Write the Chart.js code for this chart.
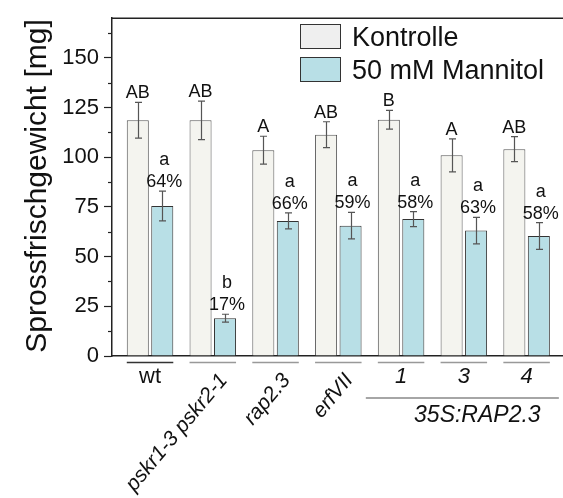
<!DOCTYPE html>
<html>
<head>
<meta charset="utf-8">
<script src="https://cdn.jsdelivr.net/npm/chart.js@4.4.1/dist/chart.umd.min.js"></script>
<style>
  html, body { margin: 0; padding: 0; background: #fff; }
</style>
</head>
<body>
<canvas id="chart" width="563" height="498"></canvas>
<script>
// values
const categories = ['wt', 'pskr1-3 pskr2-1', 'rap2.3', 'erfVII', '1', '3', '4'];
const kontrolle = [118.6, 118.6, 103.6, 111.4, 118.9, 101.0, 104.1];
const kontrolleErr = [9.0, 9.7, 7.0, 6.5, 4.7, 8.3, 6.3];
const mannitol = [75.5, 19.0, 68.0, 65.6, 68.9, 63.1, 60.4];
const mannitolErr = [7.5, 2.0, 4.0, 6.7, 3.8, 6.7, 6.7];
const kontrolleLetters = ['AB', 'AB', 'A', 'AB', 'B', 'A', 'AB'];
const mannitolLetters = ['a', 'b', 'a', 'a', 'a', 'a', 'a'];
const percentLabels = ['64%', '17%', '66%', '59%', '58%', '63%', '58%'];
const rotatedLabels = [1, 2, 3];
const groupLabel = '35S:RAP2.3';
const groupFrom = 4, groupTo = 6;
const yTicks = [0, 25, 50, 75, 100, 125, 150];

const FONT = '"Liberation Sans", Arial, sans-serif';
const AXIS = '#222';

const decor = {
  id: 'decor',
  afterDatasetsDraw(chart) {
    const { ctx, chartArea: area, scales: { y } } = chart;
    const metaK = chart.getDatasetMeta(0);
    const metaM = chart.getDatasetMeta(1);
    ctx.save();

    // top frame line
    ctx.strokeStyle = AXIS;
    ctx.lineWidth = 1.5;
    ctx.beginPath();
    ctx.moveTo(area.left, area.top);
    ctx.lineTo(area.right, area.top);
    ctx.stroke();

    // minor ticks
    ctx.lineWidth = 1.2;
    for (let v = 12.5; v < 170; v += 25) {
      const py = Math.round(y.getPixelForValue(v)) + 0.5;
      ctx.beginPath();
      ctx.moveTo(area.left - 4, py);
      ctx.lineTo(area.left, py);
      ctx.stroke();
    }

    // error bars
    const errs = [[metaK, kontrolle, kontrolleErr], [metaM, mannitol, mannitolErr]];
    ctx.strokeStyle = '#555';
    ctx.lineWidth = 1.2;
    errs.forEach(([meta, vals, err]) => {
      meta.data.forEach((el, i) => {
        const x = Math.round(el.x) + 0.5;
        const t = y.getPixelForValue(vals[i] + err[i]);
        const b = y.getPixelForValue(vals[i] - err[i]);
        ctx.beginPath();
        ctx.moveTo(x, t); ctx.lineTo(x, b);
        ctx.moveTo(x - 3.5, t); ctx.lineTo(x + 3.5, t);
        ctx.moveTo(x - 3.5, b); ctx.lineTo(x + 3.5, b);
        ctx.stroke();
      });
    });

    // significance letters and percentages
    ctx.fillStyle = '#111';
    ctx.textAlign = 'center';
    ctx.textBaseline = 'alphabetic';
    ctx.font = '18px ' + FONT;
    metaK.data.forEach((el, i) => {
      const t = y.getPixelForValue(kontrolle[i] + kontrolleErr[i]);
      ctx.fillText(kontrolleLetters[i], el.x, t - 4);
    });
    metaM.data.forEach((el, i) => {
      const t = y.getPixelForValue(mannitol[i] + mannitolErr[i]);
      ctx.fillText(percentLabels[i], el.x + 2, t - 4);
      ctx.fillText(mannitolLetters[i], el.x + 2, t - 26);
    });

    // group underlines and category labels
    const base = area.bottom;
    categories.forEach((name, i) => {
      const k = metaK.data[i], m = metaM.data[i];
      const x1 = k.x - k.width / 2, x2 = m.x + m.width / 2;
      const cx = (x1 + x2) / 2;
      ctx.strokeStyle = i === 0 ? '#333' : '#999';
      ctx.lineWidth = 1.5;
      ctx.beginPath();
      ctx.moveTo(x1, base + 6.5);
      ctx.lineTo(x2, base + 6.5);
      ctx.stroke();

      ctx.fillStyle = '#111';
      if (rotatedLabels.includes(i)) {
        ctx.save();
        ctx.font = 'italic 21px ' + FONT;
        ctx.translate(cx + 3, base + 14);
        ctx.rotate(-50 * Math.PI / 180);
        ctx.textAlign = 'right';
        ctx.textBaseline = 'top';
        ctx.fillText(name, 0, 0);
        ctx.restore();
      } else {
        ctx.font = (i === 0 ? '' : 'italic ') + '22px ' + FONT;
        ctx.textAlign = 'center';
        ctx.textBaseline = 'alphabetic';
        ctx.fillText(name, cx, base + 27);
      }
    });

    // transgenic line group
    const g1 = metaK.data[groupFrom], g2 = metaM.data[groupTo];
    const gx1 = g1.x - g1.width / 2 - 12, gx2 = g2.x + g2.width / 2 + 9;
    ctx.strokeStyle = '#888';
    ctx.lineWidth = 1.5;
    ctx.beginPath();
    ctx.moveTo(gx1, base + 42);
    ctx.lineTo(gx2, base + 42);
    ctx.stroke();
    ctx.font = 'italic 23px ' + FONT;
    ctx.textAlign = 'center';
    ctx.fillText(groupLabel, (gx1 + gx2) / 2 + 15, base + 66);

    // legend
    const items = chart.data.datasets;
    ctx.textAlign = 'left';
    ctx.font = '27px ' + FONT;
    items.forEach((ds, i) => {
      const top = 24 + i * 33;
      ctx.fillStyle = i === 0 ? '#efefef' : ds.backgroundColor;
      ctx.fillRect(300.5, top + 0.5, 40, 24);
      ctx.strokeStyle = '#333';
      ctx.lineWidth = 1;
      ctx.strokeRect(300.5, top + 0.5, 40, 24);
      ctx.fillStyle = '#111';
      ctx.fillText(ds.label, 352, top + 22);
    });

    // y title
    ctx.save();
    ctx.translate(46, 186);
    ctx.rotate(-Math.PI / 2);
    ctx.font = '30px ' + FONT;
    ctx.textAlign = 'center';
    ctx.textBaseline = 'alphabetic';
    ctx.fillStyle = '#111';
    ctx.fillText('Sprossfrischgewicht [mg]', 0, 0);
    ctx.restore();

    ctx.restore();
  }
};

new Chart(document.getElementById('chart'), {
  type: 'bar',
  data: {
    datasets: [
      {
        label: 'Kontrolle',
        data: kontrolle.map((v, i) => ({ x: i, y: v })),
        backgroundColor: '#f4f4ef',
        borderColor: '#555',
        borderWidth: 1,
        categoryPercentage: 0.78,
        barPercentage: 0.9
      },
      {
        label: '50 mM Mannitol',
        data: mannitol.map((v, i) => ({ x: i, y: v })),
        backgroundColor: '#b8dfe6',
        borderColor: '#333',
        borderWidth: 1,
        categoryPercentage: 0.78,
        barPercentage: 0.9
      }
    ]
  },
  options: {
    responsive: false,
    animation: false,
    events: [],
    layout: { padding: { top: 14, left: 0, right: 0, bottom: 0 } },
    plugins: {
      legend: { display: false },
      tooltip: { enabled: false }
    },
    scales: {
      x: {
        type: 'linear',
        min: -0.606,
        max: 6.58,
        offset: false,
        ticks: { display: false },
        grid: { display: false },
        border: { display: true, color: AXIS, width: 1.5 },
        afterFit: s => { s.height = 142; }
      },
      y: {
        min: 0,
        max: 170,
        afterBuildTicks: s => { s.ticks = yTicks.map(v => ({ value: v })); },
        ticks: { font: { family: FONT, size: 22 }, color: '#111', padding: 5 },
        grid: { drawOnChartArea: false, tickLength: 8, tickColor: AXIS, tickWidth: 1.2 },
        border: { color: AXIS, width: 1.5 },
        afterFit: s => { s.width = 112; }
      }
    }
  },
  plugins: [decor]
});
</script>
</body>
</html>
